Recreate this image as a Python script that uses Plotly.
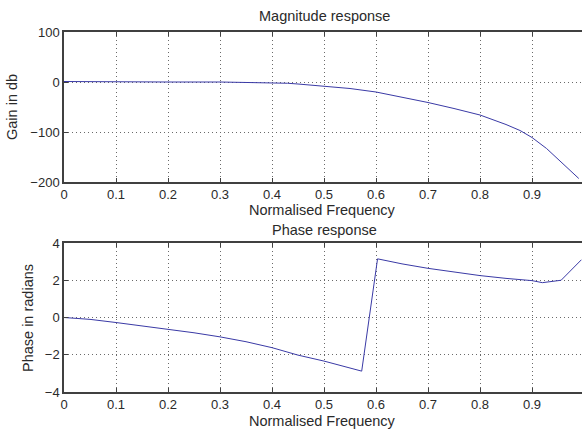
import plotly.graph_objects as go

# Magnitude response data
mag_freq = [0, 0.08, 0.2, 0.3, 0.4, 0.43, 0.45, 0.5, 0.55, 0.6, 0.65, 0.7, 0.75, 0.8, 0.85, 0.877, 0.9, 0.928, 0.99]
mag_db = [1, 0, 0, 0, -1, -2.5, -4, -8, -13, -20, -30, -41, -53, -66, -85, -97, -111, -133, -193]

# Phase response data
ph_freq = [0, 0.05, 0.1, 0.15, 0.2, 0.25, 0.3, 0.35, 0.4, 0.45, 0.5, 0.5725, 0.603,
           0.65, 0.7, 0.75, 0.8, 0.85, 0.9, 0.92, 0.956, 0.995]
ph_rad = [0, -0.1, -0.27, -0.45, -0.63, -0.82, -1.04, -1.3, -1.62, -2.02, -2.34, -2.88, 3.15,
          2.88, 2.64, 2.44, 2.25, 2.1, 1.98, 1.87, 2.0, 3.1]

x_ticks = [0, 0.1, 0.2, 0.3, 0.4, 0.5, 0.6, 0.7, 0.8, 0.9]
x_tick_text = ["0", "0.1", "0.2", "0.3", "0.4", "0.5", "0.6", "0.7", "0.8", "0.9"]
mag_ticks = [-200, -100, 0, 100]
ph_ticks = [-4, -2, 0, 2, 4]

LINE = "#3a3aa6"
FONT = "Liberation Sans, Arial, sans-serif"
TXT = "#2a2a2a"
GRID = "#6a6a6a"

fig = go.Figure()
fig.add_trace(go.Scatter(x=mag_freq, y=mag_db, mode="lines",
                         line=dict(color=LINE, width=1), xaxis="x", yaxis="y", showlegend=False))
fig.add_trace(go.Scatter(x=ph_freq, y=ph_rad, mode="lines",
                         line=dict(color=LINE, width=1), xaxis="x2", yaxis="y2", showlegend=False))

W, H = 582, 434
L, R, T, B = 64, 0, 32, 42
pw = W - L - R
ph = H - T - B
xmax = pw / 520.0

def xax(anchor):
    return dict(range=[0, xmax], tickvals=x_ticks, ticktext=x_tick_text,
                showgrid=True, gridcolor=GRID, griddash="1px,3px", gridwidth=1,
                zeroline=False, showline=True, linecolor="#404040", linewidth=1.5,
                mirror="allticks", ticks="inside", ticklen=4, tickcolor="#404040",
                tickfont=dict(family=FONT, size=13, color=TXT), anchor=anchor,
                domain=[0, 1])

def yax(rng, tv, domain, anchor):
    return dict(range=rng, tickvals=tv, showgrid=True, gridcolor=GRID, griddash="1px,3px",
                gridwidth=1, zeroline=False, showline=True, linecolor="#404040", linewidth=1.5,
                mirror=False, ticks="inside", ticklen=4, tickcolor="#404040",
                tickfont=dict(family=FONT, size=13, color=TXT), domain=domain, anchor=anchor)

top_dom = [1 - 150 / ph, 1]
bot_dom = [0, 1 - 211 / ph]

fig.update_layout(
    width=W, height=H,
    margin=dict(l=L, r=R, t=T, b=B),
    paper_bgcolor="white", plot_bgcolor="white",
    xaxis=xax("y"),
    yaxis=yax([-200, 100], mag_ticks, top_dom, "x"),
    xaxis2=xax("y2"),
    yaxis2=yax([-4, 4], ph_ticks, bot_dom, "x2"),
    font=dict(family=FONT, size=14, color=TXT),
)

def px_to_paper_x(px):
    return (px - L) / pw

def px_to_paper_y(py):
    return 1 - (py - T) / ph

ann = [
    ("Magnitude response", 324, 16, 0),
    ("Normalised Frequency", 322, 210, 0),
    ("Phase response", 324, 230, 0),
    ("Normalised Frequency", 322, 421, 0),
    ("Gain in db", 12, 107, -90),
    ("Phase in radians", 28, 318, -90),
]
for text, x, y, ang in ann:
    fig.add_annotation(text=text, x=px_to_paper_x(x), y=px_to_paper_y(y),
                       xref="paper", yref="paper", showarrow=False, textangle=ang,
                       xanchor="center", yanchor="middle",
                       font=dict(family=FONT, size=14.5, color=TXT))

fig.write_html("out.html")
